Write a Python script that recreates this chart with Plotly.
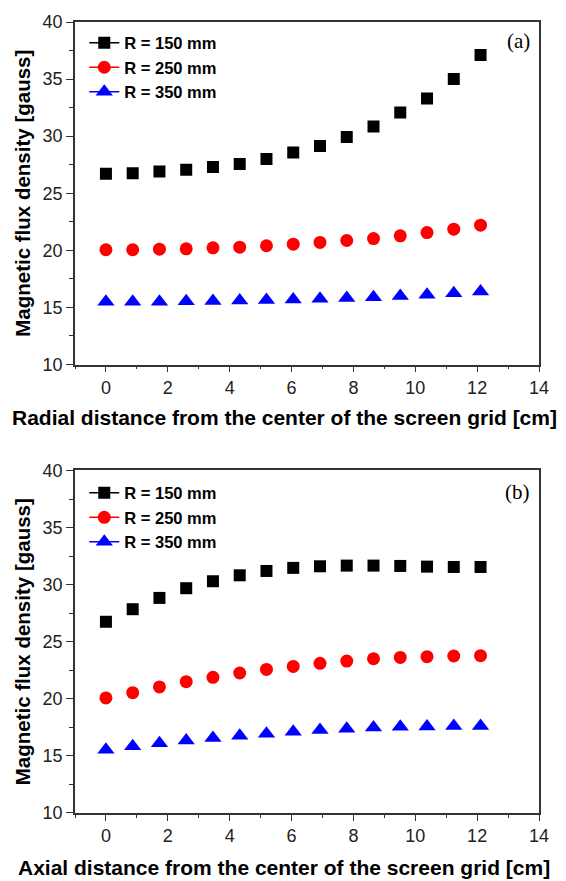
import plotly.graph_objects as go
from plotly.subplots import make_subplots

x_pos = [0, 0.865, 1.73, 2.595, 3.46, 4.325, 5.19, 6.055, 6.92, 7.785, 8.65, 9.515, 10.38, 11.245, 12.11]

radial_150 = [26.70, 26.76, 26.90, 27.05, 27.31, 27.57, 28.00, 28.56, 29.14, 29.92, 30.85, 32.07, 33.29, 35.00, 37.10]
radial_250 = [20.05, 20.05, 20.10, 20.13, 20.22, 20.28, 20.40, 20.54, 20.69, 20.86, 21.03, 21.27, 21.56, 21.85, 22.20]
radial_350 = [15.50, 15.50, 15.50, 15.53, 15.57, 15.60, 15.65, 15.70, 15.76, 15.82, 15.90, 16.00, 16.10, 16.25, 16.40]

axial_150 = [26.75, 27.85, 28.84, 29.69, 30.30, 30.82, 31.20, 31.47, 31.61, 31.67, 31.67, 31.64, 31.58, 31.55, 31.55]
axial_250 = [20.08, 20.54, 21.04, 21.50, 21.88, 22.26, 22.58, 22.84, 23.11, 23.31, 23.51, 23.63, 23.69, 23.75, 23.78]
axial_350 = [15.55, 15.84, 16.10, 16.34, 16.57, 16.77, 16.95, 17.12, 17.27, 17.38, 17.50, 17.55, 17.58, 17.61, 17.63]

series_names = ["R = 150 mm", "R = 250 mm", "R = 350 mm"]
colors = ["#000000", "#ff0000", "#0000ff"]
symbols = ["square", "circle", "triangle-up"]
sizes = [12, 13, 15]

x_titles = ["Radial distance from the center of the screen grid [cm]",
            "Axial distance from the center of the screen grid [cm]"]
panel_labels = ["(a)", "(b)"]
y_title = "Magnetic flux density [gauss]"

x_ticks = [0, 2, 4, 6, 8, 10, 12, 14]
y_ticks = [10, 15, 20, 25, 30, 35, 40]

panels = [[radial_150, radial_250, radial_350], [axial_150, axial_250, axial_350]]

fig = make_subplots(rows=2, cols=1, vertical_spacing=0.134)

for p, data in enumerate(panels):
    row = p + 1
    legend_name = "legend" if p == 0 else "legend2"
    for s, yv in enumerate(data):
        fig.add_trace(go.Scatter(
            x=x_pos, y=yv, mode="markers", showlegend=False,
            marker=dict(symbol=symbols[s], size=sizes[s], color=colors[s], line=dict(width=0)),
        ), row=row, col=1)
    for s in range(3):
        fig.add_trace(go.Scatter(
            x=[None], y=[None], mode="lines+markers", name=series_names[s],
            legend=legend_name, showlegend=True,
            line=dict(color=colors[s], width=1.5),
            marker=dict(symbol=symbols[s], size=sizes[s], color=colors[s], line=dict(width=0)),
        ), row=row, col=1)

tickfont = dict(family="Liberation Sans, Arial", size=18, color="#222")
titlefont = dict(family="Liberation Sans, Arial", size=20.5, color="#000", weight="bold")
xtitlefont = dict(family="Liberation Sans, Arial", size=21, color="#000", weight="bold")

for p in range(2):
    row = p + 1
    fig.update_xaxes(range=[-1, 14], tickvals=x_ticks, ticks="outside", ticklen=6, tickwidth=1.3,
                     tickcolor="#333", showline=True, linecolor="#333", linewidth=1.5, mirror=True,
                     showgrid=False, zeroline=False, tickfont=tickfont,
                     minor=dict(dtick=1, tick0=-1, ticks="outside", ticklen=3, tickwidth=1.2, tickcolor="#333"),
                     row=row, col=1)
    fig.update_yaxes(range=[10, 40], tickvals=y_ticks, ticks="outside", ticklen=7, tickwidth=1.3,
                     tickcolor="#333", showline=True, linecolor="#333", linewidth=1.5, mirror=True,
                     showgrid=False, zeroline=False, tickfont=tickfont,
                     minor=dict(dtick=2.5, tick0=10, ticks="outside", ticklen=4, tickwidth=1.2, tickcolor="#333"),
                     title=dict(text=y_title, font=titlefont, standoff=6),
                     row=row, col=1)

legfont = dict(family="Liberation Sans, Arial", size=16.5, color="#000", weight="bold")
fig.update_layout(
    width=566, height=881,
    margin=dict(l=75, r=27, t=17, b=68),
    plot_bgcolor="white", paper_bgcolor="white",
    legend=dict(x=0.02, y=0.9955, xanchor="left", yanchor="top",
                font=legfont, bgcolor="rgba(0,0,0,0)", tracegroupgap=0, itemsizing="trace"),
    legend2=dict(x=0.02, y=0.4265, xanchor="left", yanchor="top",
                 font=legfont, bgcolor="rgba(0,0,0,0)", tracegroupgap=0, itemsizing="trace"),
)

# x-axis titles, centred on the page as in the reference
title_y = [0.4995, -0.0695]
for p in range(2):
    fig.add_annotation(text=x_titles[p], xref="paper", yref="paper", x=0.4515, y=title_y[p],
                       xanchor="center", yanchor="middle", showarrow=False, font=xtitlefont)

fig.add_annotation(text=panel_labels[0], xref="x domain", yref="y domain", x=0.985, y=0.985,
                   xanchor="right", yanchor="top", showarrow=False,
                   font=dict(family="Liberation Serif, Times New Roman", size=21, color="#000"))
fig.add_annotation(text=panel_labels[1], xref="x2 domain", yref="y2 domain", x=0.985, y=0.977,
                   xanchor="right", yanchor="top", showarrow=False,
                   font=dict(family="Liberation Serif, Times New Roman", size=21, color="#000"))

fig.write_html("out.html")
